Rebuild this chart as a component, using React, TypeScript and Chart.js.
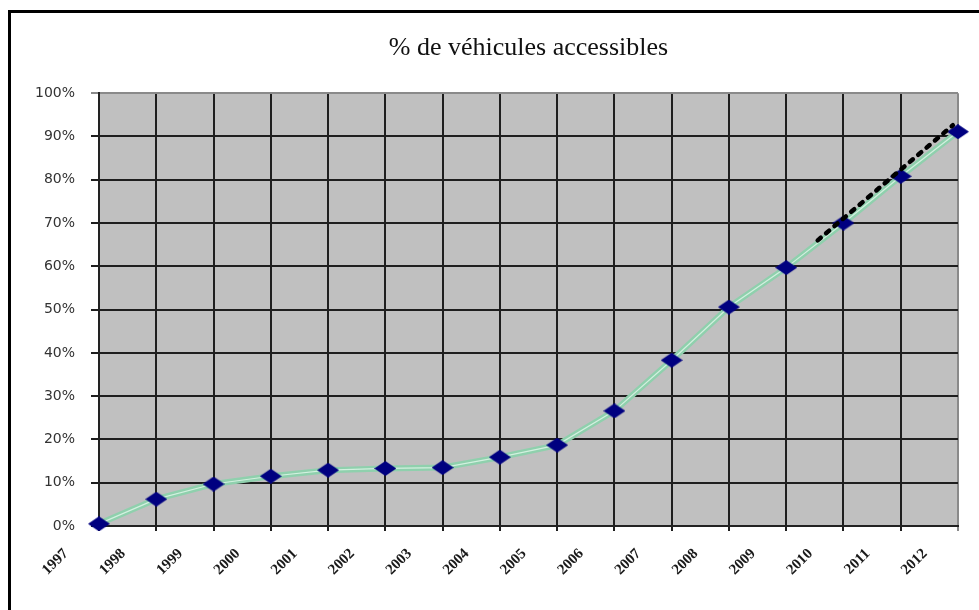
import { useEffect, useRef } from 'react';
import { Chart, registerables } from 'chart.js';

Chart.register(...registerables);

// ---- Data ----
const years = ['1997', '1998', '1999', '2000', '2001', '2002', '2003', '2004', '2005', '2006', '2007', '2008', '2009', '2010', '2011', '2012'];
const accessiblePct = [0.5, 6.2, 9.7, 11.5, 12.9, 13.3, 13.5, 15.9, 18.7, 26.6, 38.3, 50.6, 59.7, 70.0, 80.8, 91.1];
// projection (dotted black) : positions on the year index axis and values
const projectionIndex = [12.55, 14.91];
const projectionPct = [66.0, 92.6];
const yTickValues = [0, 10, 20, 30, 40, 50, 60, 70, 80, 90, 100];

const TITLE = '% de véhicules accessibles';
const SERIF = '"Liberation Serif", "Times New Roman", serif';
const SANS = '"DejaVu Sans", Verdana, sans-serif';

function makeDiamond(): HTMLCanvasElement {
  const c = document.createElement('canvas');
  c.width = 22;
  c.height = 15;
  const g = c.getContext('2d')!;
  g.fillStyle = '#000080';
  g.beginPath();
  g.moveTo(11, 0);
  g.lineTo(22, 7.5);
  g.lineTo(11, 15);
  g.lineTo(0, 7.5);
  g.closePath();
  g.fill();
  return c;
}

const plotBackground = {
  id: 'plotBackground',
  beforeDraw(chart: any) {
    const { ctx, chartArea: a } = chart;
    ctx.save();
    ctx.fillStyle = '#c0c0c0';
    ctx.fillRect(a.left, a.top, a.right - a.left, a.bottom - a.top);
    ctx.restore();
  },
};

export default function App() {
  const ref = useRef<HTMLCanvasElement | null>(null);

  useEffect(() => {
    if (!ref.current) return;
    const diamond = makeDiamond();
    const series = years.map((_, i) => ({ x: i, y: accessiblePct[i] }));
    const chart = new Chart(ref.current, {
      type: 'line',
      data: {
        datasets: [
          {
            label: 'projection',
            data: projectionIndex.map((x, i) => ({ x, y: projectionPct[i] })),
            borderColor: '#000000',
            borderWidth: 4.5,
            borderDash: [4, 7],
            borderCapStyle: 'round',
            pointRadius: 0,
            order: 0,
            clip: false,
          } as any,
          {
            label: 'markers',
            data: series,
            showLine: false,
            pointStyle: diamond,
            pointRadius: 10,
            order: 1,
            clip: false,
          } as any,
          {
            label: 'inner',
            data: series,
            borderColor: 'rgba(222,246,232,0.85)',
            borderWidth: 1.2,
            pointRadius: 0,
            order: 2,
            clip: false,
          } as any,
          {
            label: '% de véhicules accessibles',
            data: series,
            borderColor: '#8fd0ad',
            borderWidth: 6,
            pointRadius: 0,
            order: 3,
            clip: false,
          } as any,
        ],
      },
      options: {
        responsive: false,
        animation: false,
        layout: { padding: { left: 0, right: 21, top: 0, bottom: 0 } },
        plugins: {
          legend: { display: false },
          tooltip: { enabled: false },
          title: {
            display: true,
            text: TITLE,
            fullSize: false,
            color: '#111',
            font: { family: SERIF, size: 26, weight: 'normal', lineHeight: 1.2 },
            padding: { top: 33, bottom: 29 },
          },
        },
        scales: {
          x: {
            type: 'linear',
            min: 0,
            max: years.length - 1,
            afterFit(s: any) {
              s.height = 84;
              s.paddingLeft = 0;
              s.paddingRight = 0;
            },
            afterBuildTicks(s: any) {
              s.ticks = years.map((_, i) => ({ value: i }));
            },
            ticks: {
              autoSkip: false,
              minRotation: 45,
              maxRotation: 45,
              labelOffset: -33,
              padding: 14,
              color: '#1a1a1a',
              font: { family: SERIF, size: 15, weight: 'bold' },
              callback: (v: any) => years[Number(v)] ?? '',
            },
            grid: {
              color: (c: any) => (c.tick && c.tick.value === years.length - 1 ? '#8a8a8a' : '#1e1e1e'),
              lineWidth: 2,
              tickLength: 5,
            },
            border: { color: '#222', width: 2 },
          },
          y: {
            min: 0,
            max: 100,
            afterFit(s: any) {
              s.width = 99;
            },
            afterBuildTicks(s: any) {
              s.ticks = yTickValues.map((v) => ({ value: v }));
            },
            ticks: {
              padding: 16,
              color: '#333',
              font: { family: SANS, size: 14, weight: 'normal' },
              callback: (v: any) => `${v}%`,
            },
            grid: {
              color: (c: any) => (c.tick && c.tick.value === 100 ? '#8a8a8a' : '#1e1e1e'),
              lineWidth: 2,
              tickLength: 8,
            },
            border: { color: '#222', width: 2 },
          },
        },
      } as any,
      plugins: [plotBackground],
    });
    return () => chart.destroy();
  }, []);

  return (
    <div style={{ position: 'fixed', left: 0, top: 0, width: 979, height: 610, overflow: 'hidden', background: '#fff' }}>
      <div
        style={{
          position: 'absolute',
          left: 8,
          top: 10,
          width: 1100,
          height: 800,
          border: '3px solid #000',
        }}
      />
      <canvas
        ref={ref}
        width={979}
        height={610}
        style={{ position: 'absolute', left: 0, top: 0, width: 979, height: 610 }}
      />
    </div>
  );
}
